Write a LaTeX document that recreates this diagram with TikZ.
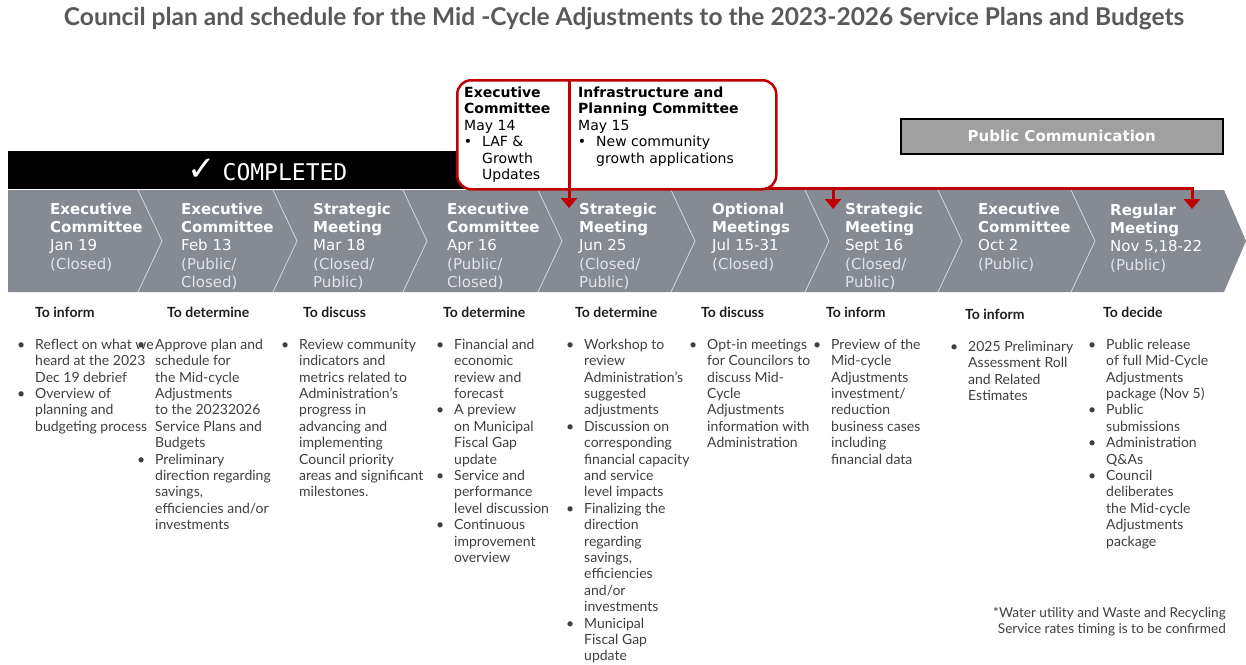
\documentclass[tikz,border=0pt]{standalone}
\usepackage{graphicx}
\usepackage{fontspec}
\setmainfont{Lato}
\newfontfamily\verd{DejaVu Sans}
\newfontfamily\monof{DejaVu Sans Mono}
\usetikzlibrary{arrows.meta}
\definecolor{chev}{HTML}{858A93}
\definecolor{redc}{HTML}{C00000}
\definecolor{ttl}{HTML}{595959}
\definecolor{txt}{HTML}{3F3F3F}
\definecolor{hdr}{HTML}{1E1E1E}
\definecolor{ltx}{HTML}{E2E4E8}
\definecolor{pcg}{HTML}{A0A0A0}
\definecolor{sep}{HTML}{D4D7DC}
\newcommand\bul{\llap{\textbullet\hspace{10pt}}}
\newcommand\sr[1]{\rule{0pt}{#1pt}}
\tikzset{
  chevtxt/.style={anchor=north west, inner sep=0, align=left, text=white, font=\verd\fontsize{15}{18.3}\selectfont},
  rtxt/.style={anchor=north west, inner sep=0, align=left, text=black, font=\verd\fontsize{14}{16.5}\selectfont},
  body/.style={anchor=north west, inner sep=0, align=left, text=txt, font=\fontsize{14}{16.4}\selectfont},
  hdrtxt/.style={anchor=base west, inner sep=0, text=hdr, font=\bfseries\fontsize{14}{16.4}\selectfont},
  redline/.style={draw=redc, line width=3pt},
  redtip/.style={-{Triangle[width=16pt,length=10pt]}},
  sepline/.style={draw=sep, line width=0.8pt}
}
\begin{document}
\begin{tikzpicture}[x=1pt,y=-1pt]
\useasboundingbox (0,0) rectangle (1246,664);

% title
\node[anchor=base, inner sep=0, text=ttl] (title) at (624,25)
  {\resizebox{1120pt}{!}{\bfseries Council plan and schedule for the Mid -Cycle Adjustments to the 2023-2026 Service Plans and Budgets}};

% chevron band
\fill[chev] (8,190) -- (1224,190) -- (1246,241) -- (1224,292) -- (8,292) -- cycle;
\foreach \s in {138,273,403,538,671,805,938,1071}{
  \draw[sepline] (\s,190) -- (\s+24,241) -- (\s,292);
}

% completed bar
\fill[black] (8,151) rectangle (520,189);
\node[inner sep=0, text=white, anchor=base west] (done) at (187,180)
  {{\verd\fontsize{34}{34}\selectfont ✓}\hspace{7pt}{\monof\fontsize{23}{23}\selectfont COMPLETED}};

% red box
\node[draw=redc, line width=2.5pt, rounded corners=14pt, fill=white, minimum width=319pt, minimum height=109pt, anchor=north west, inner sep=0] (rbox) at (456,79) {};
\node[rtxt] (ec) at (464,86) {\sr{11}\textbf{Executive}\\\textbf{Committee}\\May 14};
\node[rtxt] (ecb) at (482,135.5) {\sr{11}\bul LAF \&\\Growth\\Updates};
\node[rtxt] (ip) at (578,86) {\sr{11}\textbf{Infrastructure and}\\\textbf{Planning Committee}\\May 15};
\node[rtxt] (ipb) at (596,135.5) {\sr{11}\bul New community\\growth applications};

% red connectors
\coordinate (v0) at (569,79);
\coordinate (a1) at (569,208);
\coordinate (h0) at (765,188.5);
\coordinate (h1) at (833,188.5);
\coordinate (a2) at (833,209);
\coordinate (a3) at (1192,209);
\draw[redline, redtip] (v0) -- (a1);
\draw[redline, redtip] (h0) -| (a3);
\draw[redline, redtip] (h1) -- (a2);

% public communication
\node[draw=black, line width=1.5pt, fill=pcg, minimum width=322pt, minimum height=35pt, anchor=north west, inner sep=0, text=white, font=\verd\bfseries\fontsize{15}{18}\selectfont] (pc) at (900,118) {Public Communication};

% chevron texts
\node[chevtxt] (m1) at (50,202) {\sr{12}\textbf{Executive}\\\textbf{Committee}\\Jan 19\\\textcolor{ltx}{(Closed)}};
\node[chevtxt] (m2) at (181,202) {\sr{12}\textbf{Executive}\\\textbf{Committee}\\Feb 13\\\textcolor{ltx}{(Public/}\\\textcolor{ltx}{Closed)}};
\node[chevtxt] (m3) at (313,202) {\sr{12}\textbf{Strategic}\\\textbf{Meeting}\\Mar 18\\\textcolor{ltx}{(Closed/}\\\textcolor{ltx}{Public)}};
\node[chevtxt] (m4) at (447,202) {\sr{12}\textbf{Executive}\\\textbf{Committee}\\Apr 16\\\textcolor{ltx}{(Public/}\\\textcolor{ltx}{Closed)}};
\node[chevtxt] (m5) at (579,202) {\sr{12}\textbf{Strategic}\\\textbf{Meeting}\\Jun 25\\\textcolor{ltx}{(Closed/}\\\textcolor{ltx}{Public)}};
\node[chevtxt] (m6) at (712,202) {\sr{12}\textbf{Optional}\\\textbf{Meetings}\\Jul 15-31\\\textcolor{ltx}{(Closed)}};
\node[chevtxt] (m7) at (845,202) {\sr{12}\textbf{Strategic}\\\textbf{Meeting}\\Sept 16\\\textcolor{ltx}{(Closed/}\\\textcolor{ltx}{Public)}};
\node[chevtxt] (m8) at (978,202) {\sr{12}\textbf{Executive}\\\textbf{Committee}\\Oct 2\\\textcolor{ltx}{(Public)}};
\node[chevtxt] (m9) at (1110,203) {\sr{12}\textbf{Regular}\\\textbf{Meeting}\\Nov 5,18-22\\\textcolor{ltx}{(Public)}};

% headers
\node[hdrtxt] (h1t) at (35,317) {To inform};
\node[hdrtxt] (h2t) at (167,317) {To determine};
\node[hdrtxt] (h3t) at (303,317) {To discuss};
\node[hdrtxt] (h4t) at (443,317) {To determine};
\node[hdrtxt] (h5t) at (575,317) {To determine};
\node[hdrtxt] (h6t) at (701,317) {To discuss};
\node[hdrtxt] (h7t) at (826,317) {To inform};
\node[hdrtxt] (h8t) at (965,319) {To inform};
\node[hdrtxt] (h9t) at (1103,317) {To decide};

% bodies
\node[body] (b1) at (35,338) {\sr{11}\bul Reflect on what we\\heard at the 2023\\Dec 19 debrief\\\bul Overview of\\planning and\\budgeting process};
\node[body] (b2) at (155,338) {\sr{11}\bul Approve plan and\\schedule for\\the Mid-cycle\\Adjustments\\to the 20232026\\Service Plans and\\Budgets\\\bul Preliminary\\direction regarding\\savings,\\efficiencies and/or\\investments};
\node[body] (b3) at (299,338) {\sr{11}\bul Review community\\indicators and\\metrics related to\\Administration’s\\progress in\\advancing and\\implementing\\Council priority\\areas and significant\\milestones.};
\node[body] (b4) at (454,338) {\sr{11}\bul Financial and\\economic\\review and\\forecast\\\bul A preview\\on Municipal\\Fiscal Gap\\update\\\bul Service and\\performance\\level discussion\\\bul Continuous\\improvement\\overview};
\node[body] (b5) at (584,338) {\sr{11}\bul Workshop to\\review\\Administration’s\\suggested\\adjustments\\\bul Discussion on\\corresponding\\financial capacity\\and service\\level impacts\\\bul Finalizing the\\direction\\regarding\\savings,\\efficiencies\\and/or\\investments\\\bul Municipal\\Fiscal Gap\\update};
\node[body] (b6) at (707,338) {\sr{11}\bul Opt-in meetings\\for Councilors to\\discuss Mid-\\Cycle\\Adjustments\\information with\\Administration};
\node[body] (b7) at (831,338) {\sr{11}\bul Preview of the\\Mid-cycle\\Adjustments\\investment/\\reduction\\business cases\\including\\financial data};
\node[body] (b8) at (968,340) {\sr{11}\bul 2025 Preliminary\\Assessment Roll\\and Related\\Estimates};
\node[body] (b9) at (1106,338) {\sr{11}\bul Public release\\of full Mid-Cycle\\Adjustments\\package (Nov 5)\\\bul Public\\submissions\\\bul Administration\\Q\&As\\\bul Council\\deliberates\\the Mid-cycle\\Adjustments\\package};

% footnote
\node[anchor=north east, inner sep=0, align=right, text=txt, font=\fontsize{13.6}{16}\selectfont] (fn) at (1226,606)
  {\sr{11}*Water utility and Waste and Recycling\\Service rates timing is to be confirmed};
\end{tikzpicture}
\end{document}
